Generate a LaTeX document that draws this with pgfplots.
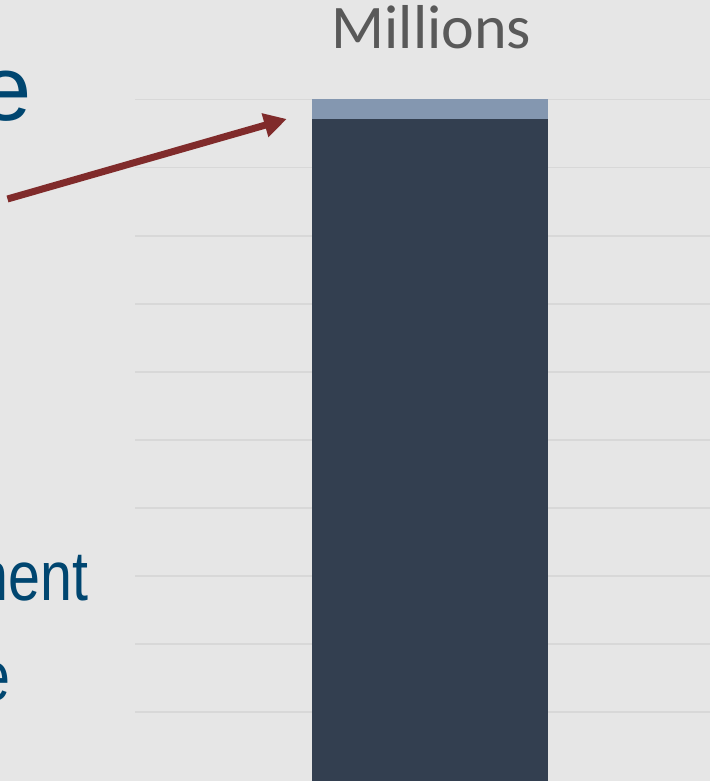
\documentclass[border=0pt]{standalone}
\usepackage{fontspec}
\usepackage{pgfplots}
\pgfplotsset{compat=1.18}
\usetikzlibrary{arrows.meta}
\setmainfont{Carlito}
\newfontfamily\arialf{Liberation Sans}
\newfontfamily\narrowf[FakeStretch=0.82]{Liberation Sans}
\definecolor{bgc}{RGB}{230,230,230}
\definecolor{gridc}{RGB}{216,216,216}
\definecolor{darkbar}{RGB}{51,63,80}
\definecolor{lightbar}{RGB}{132,151,176}
\definecolor{titlec}{RGB}{89,89,89}
\definecolor{bluetext}{RGB}{0,70,112}
\definecolor{arrowc}{RGB}{128,43,43}
\begin{document}
\begin{tikzpicture}
\useasboundingbox (0,0) rectangle (355pt,390.5pt);
\clip (0,0) rectangle (355pt,390.5pt);
\fill[bgc] (0,0) rectangle (355pt,390.5pt);
\begin{axis}[at={(67.5pt,-67.85pt)}, anchor=south west, scale only axis,
  width=312.5pt, height=442.65pt, xmin=135, xmax=760, ymin=0, ymax=13,
  axis line style={draw=none}, xtick=\empty, ytick={3,4,...,12}, yticklabels={},
  major tick length=0pt, ymajorgrids, grid style={gridc, line width=0.9pt},
  ybar stacked, bar width=118pt]
\addplot[fill=darkbar, draw=none] coordinates {(430,11.714)};
\addplot[fill=lightbar, draw=none] coordinates {(430,0.286)};
\end{axis}
\node[anchor=base, inner sep=0pt, text=titlec, font=\fontsize{31}{36}\selectfont] at (215.75pt,366pt) {Millions};
\node[anchor=base east, inner sep=0pt, text=bluetext, font=\arialf\fontsize{46}{52}\selectfont] at (16.25pt,330pt) {e};
\node[anchor=base east, inner sep=0pt, text=bluetext, font=\narrowf\fontsize{35}{40}\selectfont] at (44.25pt,90pt) {nent};
\node[anchor=base east, inner sep=0pt, text=bluetext, font=\narrowf\fontsize{35}{40}\selectfont] at (5.25pt,40pt) {e};
\draw[arrowc, line width=3.5pt, -{Triangle[length=11.3pt,width=11.7pt]}] (3.75pt,291pt) -- (143.35pt,331pt);
\end{tikzpicture}
\end{document}
